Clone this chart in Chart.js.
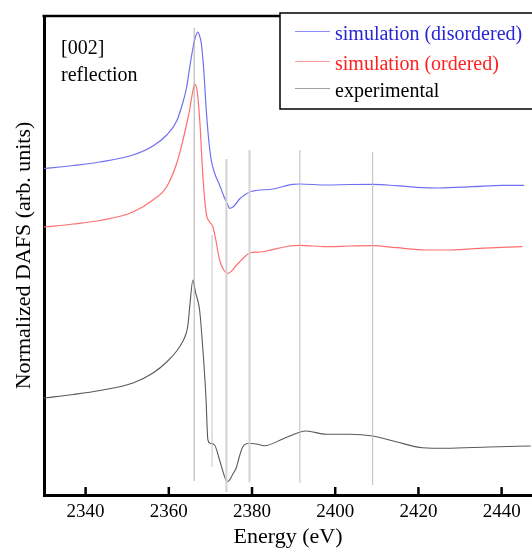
<!DOCTYPE html>
<html>
<head>
<meta charset="utf-8">
<script src="https://cdn.jsdelivr.net/npm/chart.js@4"></script>
<style>
  body { margin: 0; background: #fff; }
  canvas { display: block; }
</style>
</head>
<body>
<canvas id="dafs" width="532" height="550"></canvas>
<script>
// energies (eV) and intensities (arb. units)
const disE = [2330, 2337.0, 2343.4, 2351.4, 2356.2, 2359.5, 2361.9, 2363.2, 2364.2, 2365.0, 2365.8, 2366.4, 2367.0, 2367.4, 2367.8, 2368.4, 2369.0, 2369.6, 2370.2, 2371.0, 2372.2, 2373.4, 2374.2, 2374.6, 2375.4, 2376.1, 2377.0, 2378.2, 2379.4, 2381.0, 2385.0, 2389.8, 2391.4, 2397.9, 2403.4, 2409.0, 2414.7, 2419.5, 2425.0, 2433.0, 2440.2, 2445.4]
const disI = [3.265, 3.295, 3.33, 3.40, 3.49, 3.60, 3.74, 3.90, 4.06, 4.27, 4.47, 4.58, 4.63, 4.59, 4.52, 4.25, 3.85, 3.55, 3.35, 3.22, 3.10, 2.97, 2.90, 2.867, 2.88, 2.91, 2.96, 3.00, 3.03, 3.045, 3.06, 3.107, 3.11, 3.10, 3.105, 3.107, 3.093, 3.077, 3.07, 3.083, 3.097, 3.097]

const ordE = [2330, 2337.0, 2343.4, 2351.4, 2356.2, 2359.5, 2361.9, 2363.4, 2364.5, 2365.0, 2365.6, 2366.2, 2366.7, 2367.4, 2368.2, 2369.0, 2369.8, 2370.6, 2371.3, 2372.2, 2373.2, 2374.2, 2375.1, 2376.1, 2377.0, 2378.2, 2379.4, 2381.8, 2383.5, 2389.0, 2391.4, 2397.9, 2403.4, 2409.0, 2414.7, 2421.9, 2426.7, 2434.6, 2445.0]
const ordI = [2.68, 2.71, 2.745, 2.83, 2.95, 3.083, 3.317, 3.55, 3.75, 3.85, 4.00, 4.107, 4.07, 3.77, 3.183, 2.817, 2.733, 2.68, 2.55, 2.35, 2.25, 2.217, 2.24, 2.29, 2.33, 2.38, 2.42, 2.43, 2.44, 2.49, 2.497, 2.483, 2.49, 2.493, 2.473, 2.45, 2.45, 2.467, 2.483]

const expE = [2330, 2337.0, 2343.4, 2351.4, 2356.2, 2359.5, 2361.9, 2363.4, 2364.2, 2364.6, 2365.0, 2365.8, 2366.4, 2367.4, 2368.2, 2368.9, 2369.4, 2370.0, 2371.0, 2372.2, 2373.2, 2374.0, 2374.6, 2375.4, 2376.2, 2377.0, 2377.8, 2379.4, 2381.0, 2383.0, 2387.4, 2391.4, 2393.0, 2397.8, 2403.4, 2409.0, 2414.6, 2421.0, 2426.6, 2437.0, 2447.0]
const expI = [0.97, 1.005, 1.045, 1.12, 1.22, 1.33, 1.44, 1.54, 1.62, 1.70, 1.87, 2.15, 2.03, 1.85, 1.45, 1.00, 0.55, 0.517, 0.50, 0.35, 0.21, 0.133, 0.15, 0.21, 0.27, 0.39, 0.483, 0.517, 0.51, 0.493, 0.56, 0.627, 0.64, 0.607, 0.607, 0.59, 0.533, 0.473, 0.467, 0.48, 0.49]

// vertical guide lines: energy, top and bottom
const markE = [2366.1, 2370.4, 2373.85, 2379.4, 2391.5, 2409.0]
const markTop = [4.67, 2.60, 3.36, 3.45, 3.45, 3.43]
const markBottom = [0.14, 0.28, 0.03, 0.125, 0.12, 0.10]
const markColor = ['#b0b0b0', '#c4c4c4', '#d2d2d2', '#d2d2d2', '#bdbdbd', '#bdbdbd']
const markWidth = [1, 1, 2, 2, 1, 1]

const xTicks = [2340, 2360, 2380, 2400, 2420, 2440]

const serif = "'Liberation Serif', 'Times New Roman', serif"

function pts(xs, ys) {
  return xs.map((x, i) => ({ x: x, y: ys[i] }))
}

let datasets = []
markE.forEach((e, i) => {
  datasets.push({
    label: 'guide',
    data: [{ x: e, y: markBottom[i] }, { x: e, y: markTop[i] }],
    borderColor: markColor[i],
    borderWidth: markWidth[i],
    pointRadius: 0
  })
})
datasets.push({
  label: 'simulation (disordered)', data: pts(disE, disI),
  borderColor: '#6f6ff2', borderWidth: 1.2, pointRadius: 0,
  cubicInterpolationMode: 'monotone', legendLine: '#9090ff', legendText: '#2626d6'
})
datasets.push({
  label: 'simulation (ordered)', data: pts(ordE, ordI),
  borderColor: '#ff6f6f', borderWidth: 1.2, pointRadius: 0,
  cubicInterpolationMode: 'monotone', legendLine: '#ffa0a0', legendText: '#ff2020'
})
datasets.push({
  label: 'experimental', data: pts(expE, expI),
  borderColor: '#5a5a5a', borderWidth: 1.1, pointRadius: 0,
  cubicInterpolationMode: 'monotone', legendLine: '#a0a0a0', legendText: '#000'
})

const frame = {
  id: 'frame',
  afterDraw(chart) {
    const ctx = chart.ctx
    const area = chart.chartArea
    const xs = chart.scales.x
    ctx.save()
    // inward tick marks
    ctx.strokeStyle = '#000'
    ctx.lineWidth = 2.5
    xTicks.forEach(t => {
      const px = xs.getPixelForValue(t)
      ctx.beginPath()
      ctx.moveTo(px, area.bottom)
      ctx.lineTo(px, area.bottom - 8)
      ctx.stroke()
    })
    // top frame line
    ctx.lineWidth = 2.5
    ctx.beginPath()
    ctx.moveTo(area.left - 1.5, area.top)
    ctx.lineTo(area.right, area.top)
    ctx.stroke()

    // annotation
    ctx.fillStyle = '#000'
    ctx.font = '20px ' + serif
    ctx.textBaseline = 'alphabetic'
    ctx.fillText('[002]', 61, 54)
    ctx.fillText('reflection', 61, 81)

    // legend box
    const bx = 280, by = 13, bh = 96
    ctx.fillStyle = '#fff'
    ctx.fillRect(bx, by, chart.width - bx + 5, bh)
    ctx.strokeStyle = '#000'
    ctx.lineWidth = 1.5
    ctx.strokeRect(bx, by, chart.width - bx + 5, bh)
    const items = chart.data.datasets.filter(d => d.label !== 'guide')
    const lineY = [31.5, 61.5, 88.5]
    const textY = [40, 70, 97]
    items.forEach((d, i) => {
      ctx.strokeStyle = d.legendLine
      ctx.lineWidth = 1.2
      ctx.beginPath()
      ctx.moveTo(295, lineY[i])
      ctx.lineTo(330, lineY[i])
      ctx.stroke()
      ctx.fillStyle = d.legendText
      ctx.font = '20px ' + serif
      ctx.fillText(d.label, 335, textY[i])
    })
    ctx.restore()
  }
}

new Chart(document.getElementById('dafs'), {
  type: 'line',
  data: { datasets: datasets },
  options: {
    responsive: false,
    animation: false,
    layout: { padding: { top: 16, left: 0, right: 0, bottom: 0 } },
    plugins: { legend: { display: false }, tooltip: { enabled: false } },
    scales: {
      x: {
        type: 'linear',
        min: 2330,
        max: 2447.3,
        afterBuildTicks(s) { s.ticks = xTicks.map(v => ({ value: v })) },
        afterFit(s) { s.height = 55 },
        grid: { display: false, drawTicks: false },
        border: { display: true, width: 3, color: '#000' },
        ticks: { color: '#000', font: { family: serif, size: 19 }, padding: 6, maxRotation: 0, callback: v => String(v) },
        title: { display: true, text: 'Energy (eV)', color: '#000', font: { family: serif, size: 22 }, padding: { top: 0, bottom: 0 } }
      },
      y: {
        min: 0,
        max: 4.79,
        afterFit(s) { s.width = 44 },
        grid: { display: false, drawTicks: false },
        border: { display: true, width: 3, color: '#000' },
        ticks: { display: false },
        title: { display: true, text: 'Normalized DAFS (arb. units)', color: '#000', font: { family: serif, size: 22 }, padding: { top: 11, bottom: 0 } }
      }
    }
  },
  plugins: [frame]
})
</script>
</body>
</html>
